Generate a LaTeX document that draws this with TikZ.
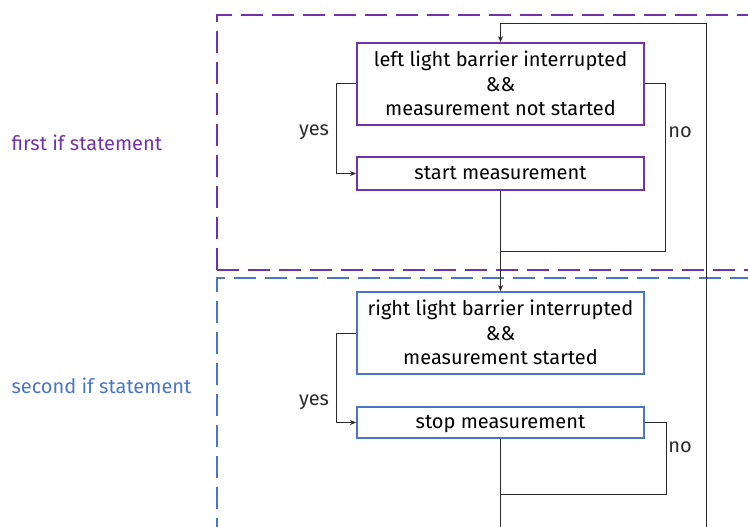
\documentclass[tikz,border=0pt]{standalone}
\usepackage{fontspec}
\setmainfont{Fira Sans}
\usetikzlibrary{arrows.meta}
\definecolor{vio}{HTML}{7432AA}
\definecolor{blu}{HTML}{4A76C8}
\definecolor{conncol}{HTML}{2B2B2B}
\begin{document}
\begin{tikzpicture}[x=1pt,y=-1pt,
  box/.style={draw, line width=1.8pt, fill=white, align=center, inner sep=2pt, minimum width=287pt, font=\fontsize{20}{24.5}\selectfont},
  conn/.style={draw=conncol, line width=1pt},
  arr/.style={conn, -{Stealth[length=6pt,width=5pt]}},
  lbl/.style={font=\fontsize{20}{22}\selectfont, text=conncol},
  grp/.style={line width=2.7pt, dash pattern=on 22pt off 9pt},
  ttl/.style={font=\fontsize{20}{22}\selectfont, anchor=west}]
\useasboundingbox (0,0) rectangle (748,527);
% group frames
\draw[grp, vio] (217,270) -- (217,15) -- (770,15);
\draw[grp, vio] (217,270) -- (770,270);
\draw[grp, blu] (217,540) -- (217,278) -- (770,278);
\node[ttl, text=vio] (t1) at (8,143) {first if statement};
\node[ttl, text=blu] (t2) at (8,386) {second if statement};
% boxes
\node[box, draw=vio, minimum height=82pt, text depth=1.5pt] (c1) at (500.5,84) {left light barrier interrupted\\\&\&\\measurement not started};
\node[box, draw=vio, minimum height=33pt, text depth=1pt] (s1) at (500.5,173.5) {start measurement};
\node[box, draw=blu, minimum height=82pt, text depth=1.5pt] (c2) at (500.5,333) {right light barrier interrupted\\\&\&\\measurement started};
\node[box, draw=blu, minimum height=31pt, text depth=1pt] (s2) at (500.5,422.5) {stop measurement};
% helper coordinates
\coordinate (j1) at (500.5,251);
\coordinate (j2) at (500.5,494);
\coordinate (top) at (500.5,24);
\coordinate (loopB) at (706,540);
\coordinate (bot) at (500.5,540);
% connectors
\draw[arr] (c1.west) -- ++(-20,0) |- (s1.west);
\draw[conn] (c1.east) -- ++(21,0) |- (j1);
\draw[arr] (s1.south) -- (c2.north);
\draw[arr] (loopB) |- (top) -- (c1.north);
\draw[arr] (c2.west) -- ++(-20,0) |- (s2.west);
\draw[conn] (s2.east) -- ++(22,0) |- (j2);
\draw[conn] (s2.south) -- (bot);
% labels
\node[lbl] (y1) at (314,132) {yes};
\node[lbl] (n1) at (680,132) {no};
\node[lbl] (y2) at (314,402) {yes};
\node[lbl] (n2) at (680,447) {no};
\end{tikzpicture}
\end{document}
